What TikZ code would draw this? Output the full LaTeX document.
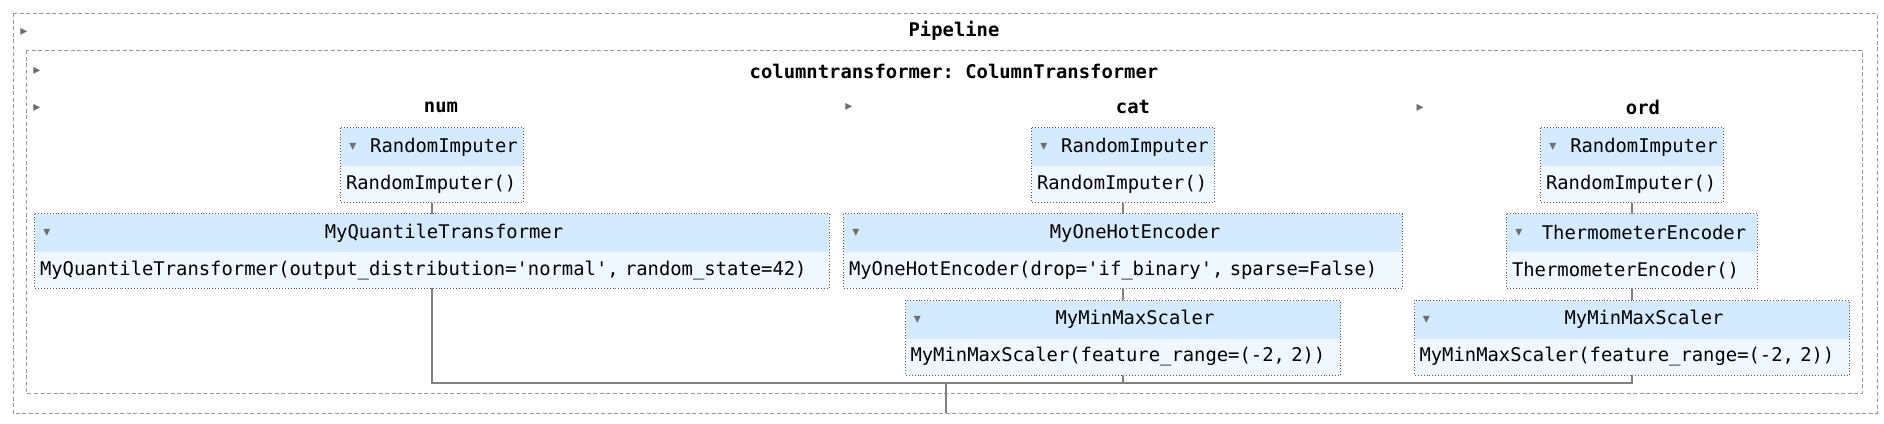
\documentclass[tikz,border=0pt]{standalone}
\usepackage{fontspec}
\setmonofont{DejaVu Sans Mono}
\newfontfamily\symfont{DejaVu Sans}
\usetikzlibrary{positioning}
\definecolor{headc}{HTML}{D4EBFF}
\definecolor{bodyc}{HTML}{F0F8FF}
\definecolor{linec}{HTML}{808080}
\definecolor{dashc}{HTML}{9A9A9A}
\definecolor{tric}{HTML}{6E6E6E}
\begin{document}
\begin{tikzpicture}[x=1pt,y=-1pt,font=\ttfamily\fontsize{18.85}{22}\selectfont,
  head/.style={fill=headc,minimum width=#1,minimum height=38pt,inner xsep=3pt,inner ysep=0pt},
  body/.style={fill=bodyc,text width=#1,minimum height=36pt,inner xsep=5pt,inner ysep=0pt,align=left},
  frame/.style={draw=black!65,dotted,line width=0.9pt},
  wire/.style={draw=linec,line width=1.5pt},
  dashbox/.style={draw=dashc,dash pattern=on 4pt off 2.5pt,line width=1pt},
  ttl/.style={font=\ttfamily\bfseries\fontsize{18.85}{22}\selectfont},
  tri/.style={text=tric,font=\symfont\fontsize{14}{14}\selectfont,inner sep=0pt}]
\useasboundingbox (0,0) rectangle (1884,423);
% dashed containers
\draw[dashbox] (13,13) rectangle (1877,413);
\draw[dashbox] (26,50) rectangle (1862,393);
\node[tri] (pipeT) at (24,32) {▸};
\node[ttl] (pipe) at (954,31) {Pipeline};
\node[tri] (ctT) at (37,71) {▸};
\node[ttl] (ct) at (954,71) {columntransformer: ColumnTransformer};
% num
\node[tri] (numA) at (37,108) {▸};
\node[ttl] (num) at (441,107) {num};
\node[head=182pt] (nRI-h) at (432,147) {\hspace*{24pt}RandomImputer};
\node[body=172pt,below=0pt of nRI-h] (nRI-b) {RandomImputer()};
\node[head=794pt,below=11pt of nRI-b] (nQT-h) {\hspace*{24pt}MyQuantileTransformer};
\node[body=784pt,below=0pt of nQT-h] (nQT-b) {MyQuantileTransformer(output\_distribution='normal', random\_state=42)};
% cat
\node[tri] (catA) at (849,107) {▸};
\node[ttl] (cat) at (1133,107) {cat};
\node[head=182pt] (cRI-h) at (1123,147) {\hspace*{24pt}RandomImputer};
\node[body=172pt,below=0pt of cRI-h] (cRI-b) {RandomImputer()};
\node[head=558pt,below=11pt of cRI-b] (cOH-h) {\hspace*{24pt}MyOneHotEncoder};
\node[body=548pt,below=0pt of cOH-h] (cOH-b) {MyOneHotEncoder(drop='if\_binary', sparse=False)};
\node[head=435pt,below=12pt of cOH-b] (cMM-h) {\hspace*{24pt}MyMinMaxScaler};
\node[body=425pt,below=0pt of cMM-h] (cMM-b) {MyMinMaxScaler(feature\_range=(-2, 2))};
% ord
\node[tri] (ordA) at (1420,108) {▸};
\node[ttl] (ord) at (1643,107) {ord};
\node[head=182pt] (oRI-h) at (1632,147) {\hspace*{24pt}RandomImputer};
\node[body=172pt,below=0pt of oRI-h] (oRI-b) {RandomImputer()};
\node[head=250pt,below=11pt of oRI-b] (oTE-h) {\hspace*{24pt}ThermometerEncoder};
\node[body=240pt,below=0pt of oTE-h] (oTE-b) {ThermometerEncoder()};
\node[head=435pt,below=12pt of oTE-b] (oMM-h) {\hspace*{24pt}MyMinMaxScaler};
\node[body=425pt,below=0pt of oMM-h] (oMM-b) {MyMinMaxScaler(feature\_range=(-2, 2))};
% borders and toggles
\foreach \b in {nRI,nQT,cRI,cOH,cMM,oRI,oTE,oMM}{
  \draw[frame] (\b-h.north west) rectangle (\b-b.south east);
  \node[tri] (\b-t) at ([xshift=12pt]\b-h.west) {▾};
}
% connectors
\foreach \a/\b in {nRI/nQT,cRI/cOH,cOH/cMM,oRI/oTE,oTE/oMM}
  \draw[wire] (\a-b.south) -- (\b-h.north);
\coordinate (jn) at (946,383);
\coordinate (out) at (946,413);
\draw[wire] (nQT-b.south) |- (oMM-b.south |- jn) -- (oMM-b.south);
\draw[wire] (cMM-b.south) -- (cMM-b.south |- jn);
\draw[wire] (jn) -- (out);
\end{tikzpicture}
\end{document}
